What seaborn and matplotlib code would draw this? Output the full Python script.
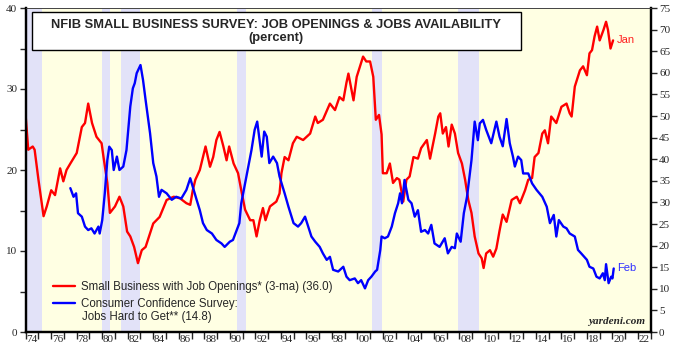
import matplotlib
matplotlib.use("Agg")
import matplotlib.pyplot as plt
import seaborn as sns
import pandas as pd
from matplotlib.ticker import FixedLocator, NullFormatter, MultipleLocator
from matplotlib.patches import Rectangle

# ---------------- data ----------------
red_dates = [1974.0, 1974.2, 1974.55, 1974.7, 1975.0, 1975.4, 1975.65, 1976.0, 1976.3, 1976.7,
             1976.95, 1977.2, 1977.5, 1978.0, 1978.4, 1978.65, 1978.9, 1979.2, 1979.55, 1979.95,
             1980.1, 1980.4, 1980.6, 1981.0, 1981.35, 1981.65, 1981.95, 1982.2, 1982.5, 1982.8,
             1983.1, 1983.4, 1984.0, 1984.5, 1985.05, 1985.6, 1986.1, 1986.6, 1986.9, 1987.1,
             1987.3, 1987.65, 1988.1, 1988.45, 1988.7, 1988.95, 1989.2, 1989.5, 1989.75, 1989.95,
             1990.3, 1990.65, 1990.9, 1991.2, 1991.6, 1991.85, 1992.1, 1992.35, 1992.6, 1992.8,
             1993.15, 1993.65, 1993.9, 1994.05, 1994.3, 1994.6, 1994.95, 1995.25, 1995.75, 1996.3,
             1996.7, 1996.9, 1997.3, 1997.85, 1998.25, 1998.6, 1998.9, 1999.15, 1999.3, 1999.7,
             1999.95, 2000.45, 2000.7, 2001.0, 2001.25, 2001.45, 2001.7, 2001.9, 2002.0, 2002.3,
             2002.55, 2002.8, 2003.1, 2003.3, 2003.6, 2003.85, 2004.1, 2004.4, 2004.75, 2005.0,
             2005.45, 2005.7, 2006.1, 2006.35, 2006.5, 2006.7, 2006.95, 2007.15, 2007.4, 2007.65,
             2007.9, 2008.2, 2008.45, 2008.7, 2008.95, 2009.2, 2009.5, 2009.75, 2009.9, 2010.1,
             2010.4, 2010.65, 2010.9, 2011.15, 2011.4, 2011.7, 2012.1, 2012.5, 2012.75, 2013.15,
             2013.4, 2013.7, 2013.9, 2014.2, 2014.5, 2014.7, 2014.95, 2015.2, 2015.6, 2016.0,
             2016.4, 2016.65, 2016.8, 2017.05, 2017.45, 2017.7, 2018.0, 2018.2, 2018.4, 2018.6,
             2018.8, 2019.0, 2019.3, 2019.5, 2019.65, 2019.85, 2020.05]
red_values = [26.6, 22.5, 22.9, 22.5, 18.8, 14.3, 15.5, 17.5, 16.9, 20.2,
              18.6, 20.0, 20.8, 22.1, 25.3, 25.8, 28.2, 25.8, 24.1, 23.3,
              21.6, 18.4, 14.7, 15.5, 16.7, 15.5, 12.4, 11.8, 10.5, 8.5,
              10.1, 10.5, 13.4, 14.2, 16.3, 16.7, 16.5, 15.9, 15.7, 17.5,
              18.8, 20.0, 22.9, 20.4, 21.6, 23.7, 24.7, 22.9, 21.2, 22.9,
              20.8, 19.6, 17.5, 15.1, 13.8, 13.8, 11.8, 13.8, 15.3, 13.8,
              15.5, 16.1, 17.1, 19.6, 21.6, 21.2, 23.3, 24.1, 23.7, 24.5,
              26.6, 25.8, 26.2, 28.2, 27.4, 29.0, 28.6, 30.8, 31.9, 28.6,
              31.5, 34.0, 33.4, 33.4, 31.5, 26.2, 26.8, 24.4, 19.6, 19.6,
              20.8, 18.4, 19.0, 18.8, 16.1, 18.8, 19.2, 21.6, 21.4, 22.7,
              23.7, 21.4, 24.5, 26.6, 27.0, 24.5, 25.3, 22.9, 25.6, 24.5,
              22.1, 20.8, 18.8, 16.3, 14.7, 11.8, 9.7, 9.1, 7.9, 9.7,
              10.1, 9.3, 10.3, 12.5, 14.5, 13.6, 16.3, 16.7, 15.9, 17.5,
              18.8, 19.0, 21.6, 22.1, 24.5, 24.9, 23.3, 26.6, 25.8, 27.8,
              28.2, 27.0, 26.6, 30.3, 32.3, 32.8, 31.7, 34.4, 34.8, 36.5,
              37.7, 36.0, 37.3, 38.3, 37.3, 35.0, 36.0]

blue_dates = [1977.5, 1977.75, 1977.95, 1978.1, 1978.4, 1978.65, 1978.9, 1979.15, 1979.4, 1979.7,
              1979.8, 1980.0, 1980.2, 1980.4, 1980.55, 1980.75, 1980.9, 1981.15, 1981.35, 1981.65,
              1981.9, 1982.2, 1982.4, 1982.55, 1982.7, 1983.0, 1983.2, 1983.4, 1983.75, 1984.0,
              1984.25, 1984.45, 1984.65, 1985.05, 1985.45, 1985.8, 1986.2, 1986.6, 1986.9, 1987.1,
              1987.4, 1987.65, 1987.9, 1988.2, 1988.6, 1988.95, 1989.35, 1989.6, 1990.0, 1990.25,
              1990.55, 1990.75, 1990.9, 1991.2, 1991.45, 1991.7, 1991.95, 1992.15, 1992.3, 1992.5,
              1992.7, 1992.9, 1993.1, 1993.4, 1993.7, 1993.9, 1994.3, 1994.6, 1995.0, 1995.35,
              1995.6, 1995.9, 1996.15, 1996.4, 1996.7, 1997.05, 1997.3, 1997.6, 1997.85, 1998.1,
              1998.5, 1998.9, 1999.15, 1999.4, 1999.8, 2000.05, 2000.3, 2000.6, 2000.85, 2001.1,
              2001.4, 2001.55, 2001.8, 2001.9, 2002.15, 2002.4, 2002.7, 2002.95, 2003.2, 2003.35,
              2003.5, 2003.7, 2004.0, 2004.25, 2004.5, 2004.75, 2005.0, 2005.3, 2005.55, 2005.8,
              2006.05, 2006.45, 2006.85, 2007.1, 2007.4, 2007.65, 2007.8, 2008.1, 2008.35, 2008.6,
              2008.95, 2009.2, 2009.45, 2009.6, 2009.85, 2010.1, 2010.5, 2010.9, 2011.15, 2011.4,
              2011.7, 2011.95, 2012.2, 2012.35, 2012.6, 2012.85, 2013.0, 2013.4, 2013.7, 2014.05,
              2014.5, 2014.85, 2015.1, 2015.4, 2015.6, 2015.8, 2016.15, 2016.4, 2016.65, 2017.05,
              2017.3, 2017.55, 2018.0, 2018.2, 2018.5, 2018.75, 2019.0, 2019.25, 2019.4, 2019.5,
              2019.7, 2019.9, 2020.0, 2020.1]
blue_values = [33.3, 31.3, 32.1, 27.5, 26.7, 24.4, 23.6, 24.0, 22.8, 24.4,
               22.8, 25.9, 32.1, 39.8, 42.9, 42.1, 37.5, 40.6, 37.5, 38.3,
               42.1, 52.2, 56.4, 57.6, 59.9, 61.8, 58.3, 53.7, 46.0, 39.1,
               36.0, 31.3, 32.9, 32.1, 30.6, 31.3, 30.9, 32.9, 35.6, 33.6,
               30.6, 28.2, 25.2, 23.6, 22.8, 21.3, 20.5, 19.7, 20.9, 21.3,
               23.6, 25.2, 29.8, 34.4, 38.3, 42.1, 46.8, 48.7, 45.2, 40.6,
               46.4, 45.2, 39.1, 40.6, 39.1, 36.0, 32.1, 29.0, 25.2, 24.4,
               25.2, 26.7, 24.4, 22.1, 20.9, 19.7, 18.2, 16.7, 17.4, 14.4,
               14.0, 15.1, 12.8, 12.0, 12.4, 11.3, 12.0, 10.1, 12.0, 12.8,
               14.0, 14.4, 19.0, 22.1, 21.7, 22.1, 24.4, 27.5, 29.8, 32.1,
               29.8, 35.2, 30.6, 29.8, 26.7, 28.2, 23.2, 23.6, 22.8, 24.8,
               20.5, 19.7, 21.7, 18.2, 19.7, 19.4, 22.8, 20.9, 27.5, 31.3,
               39.8, 48.7, 44.4, 48.3, 49.1, 46.8, 43.7, 48.7, 45.2, 43.0,
               49.3, 43.7, 40.6, 38.3, 40.6, 39.8, 36.7, 36.7, 34.4, 32.9,
               31.3, 29.0, 25.2, 27.1, 22.1, 25.9, 24.4, 24.0, 22.8, 22.1,
               19.0, 18.2, 16.7, 15.1, 14.7, 12.8, 12.4, 13.6, 12.0, 15.7,
               11.3, 12.8, 12.4, 14.7]

recession_starts = [1973.9, 1980.0, 1981.5, 1990.55, 2001.15, 2007.9]
recession_ends = [1975.25, 1980.6, 1982.95, 1991.25, 2001.9, 2009.5]

year_ticks = list(range(1974, 2024))
label_years = list(range(1974, 2023, 2))
year_labels = ["%02d" % (y % 100) for y in label_years]

red_label = "Small Business with Job Openings* (3-ma) (36.0)"
blue_label_1 = "Consumer Confidence Survey:"
blue_label_2 = "Jobs Hard to Get** (14.8)"
title_main = "NFIB SMALL BUSINESS SURVEY: JOB OPENINGS & JOBS AVAILABILITY"
title_sub = "(percent)"

# ---------------- style ----------------
sns.set_style("white")
plt.rcParams["font.family"] = ["Liberation Sans", "DejaVu Sans"]

W, H = 680, 355
fig = plt.figure(figsize=(W / 100, H / 100), dpi=100)
x0, x1, ytop, ybot = 25.7, 650.7, 8.0, 332.0
ax = fig.add_axes([x0 / W, 1 - ybot / H, (x1 - x0) / W, (ybot - ytop) / H])
ax.set_facecolor("#FFFFE3")

for s, e in zip(recession_starts, recession_ends):
    ax.axvspan(s, e, color="#E2E2F8", lw=0, zorder=0)

red_df = pd.DataFrame({"date": red_dates, "value": red_values})
blue_df = pd.DataFrame({"date": blue_dates, "value": blue_values})

sns.lineplot(data=red_df, x="date", y="value", ax=ax, color="#FF0000", lw=1.7, legend=False)
ax2 = ax.twinx()
sns.lineplot(data=blue_df, x="date", y="value", ax=ax2, color="#0000FF", lw=1.7, legend=False)

ax.set_xlim(1974, 2023)
ax.set_ylim(0, 40)
ax2.set_ylim(0, 75)
ax.set_xlabel("")
ax.set_ylabel("")
ax2.set_ylabel("")

# left axis
ax.yaxis.set_major_locator(MultipleLocator(10))
ax.yaxis.set_minor_locator(MultipleLocator(5))
ax.tick_params(axis="y", which="both", direction="out", length=4, width=1, left=True, pad=2)
for lab in ax.get_yticklabels():
    lab.set_fontfamily("Liberation Serif"); lab.set_fontsize(8)

# right axis
ax2.yaxis.set_major_locator(MultipleLocator(5))
ax2.tick_params(axis="y", which="both", direction="out", length=4, width=1, right=True, pad=2)
for lab in ax2.get_yticklabels():
    lab.set_fontfamily("Liberation Serif"); lab.set_fontsize(8)

# x axis: ticks at every year, labels at mid of even years
ax.xaxis.set_major_locator(FixedLocator(year_ticks))
ax.xaxis.set_major_formatter(NullFormatter())
ax.xaxis.set_minor_locator(FixedLocator([y + 0.5 for y in label_years]))
ax.set_xticklabels(year_labels, minor=True, fontfamily="Liberation Serif", fontsize=8)
ax.tick_params(axis="x", which="major", direction="out", length=5, width=1, bottom=True)
ax.tick_params(axis="x", which="minor", length=0, pad=2)

for a in (ax, ax2):
    for side in ("left", "bottom", "right"):
        a.spines[side].set_linewidth(1.6)
        a.spines[side].set_color("black")
    a.spines["top"].set_linewidth(0.6)
    a.spines["top"].set_color("#444444")
ax2.grid(False); ax.grid(False)

# legend
fs_leg = 8.3
handles = ax.get_lines()[:1] + ax2.get_lines()[:1]
leg = ax2.legend(handles, [red_label, blue_label_1], loc="center left",
                 bbox_to_anchor=((53 - x0) / (x1 - x0), (ybot - 295.2) / (ybot - ytop)),
                 frameon=False, fontsize=fs_leg, borderaxespad=0, borderpad=0,
                 handlelength=1.9, handletextpad=0.55, labelspacing=0.42)
ax2.text((81.7 - x0) / (x1 - x0), (ybot - 316.7) / (ybot - ytop), blue_label_2,
         transform=ax2.transAxes, fontsize=fs_leg, ha="left", va="center")

# end labels
ax.text(2020.35, 36.0, "Jan", color="#FF2020", fontsize=8, va="center", ha="left")
ax2.text(2020.4, 14.8, "Feb", color="#3030FF", fontsize=8, va="center", ha="left")

ax2.text(0.991, 0.018, "yardeni.com", transform=ax2.transAxes, ha="right", va="bottom",
         fontfamily="Liberation Serif", fontweight="bold", fontstyle="italic", fontsize=8)

# title box
bx0, bx1, by0, by1 = 32, 520.7, 12, 50
fig.add_artist(Rectangle((bx0 / W, 1 - by1 / H), (bx1 - bx0) / W, (by1 - by0) / H,
                         transform=fig.transFigure, facecolor="white", edgecolor="black",
                         lw=1.0, zorder=5))
cx = (bx0 + bx1) / 2 / W
fig.text(cx, 1 - 25.2 / H, title_main, ha="center", va="center", fontsize=9.3,
         fontweight="bold", zorder=6)
fig.text(cx, 1 - 37.5 / H, title_sub, ha="center", va="center", fontsize=9.3,
         fontweight="bold", zorder=6)

fig.savefig("out.png", dpi=100)
